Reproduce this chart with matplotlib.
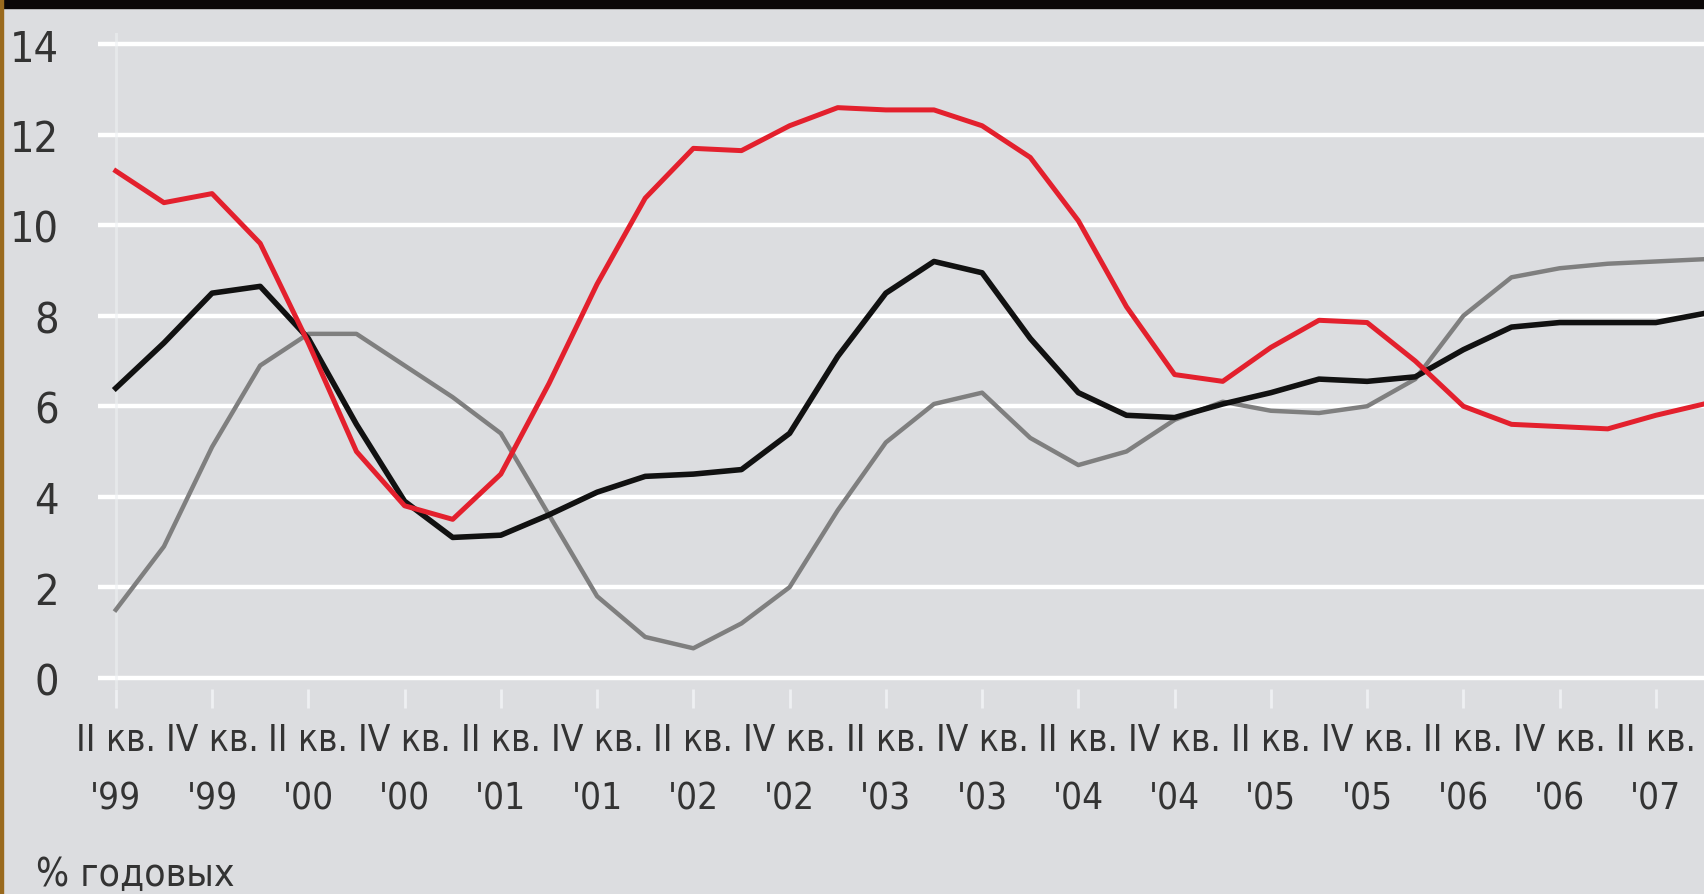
import matplotlib
matplotlib.use("Agg")
import matplotlib.pyplot as plt
from matplotlib import font_manager as fm

red = [11.2, 10.5, 10.7, 9.6, 7.4, 5.0, 3.8, 3.5, 4.5, 6.5, 8.7, 10.6, 11.7, 11.65,
       12.2, 12.6, 12.55, 12.55, 12.2, 11.5, 10.1, 8.2, 6.7, 6.55, 7.3, 7.9, 7.85,
       7.0, 6.0, 5.6, 5.55, 5.5, 5.8, 6.05]
black = [6.4, 7.4, 8.5, 8.65, 7.5, 5.6, 3.9, 3.1, 3.15, 3.6, 4.1, 4.45, 4.5, 4.6,
         5.4, 7.1, 8.5, 9.2, 8.95, 7.5, 6.3, 5.8, 5.75, 6.05, 6.3, 6.6, 6.55, 6.65,
         7.25, 7.75, 7.85, 7.85, 7.85, 8.05]
gray = [1.5, 2.9, 5.1, 6.9, 7.6, 7.6, 6.9, 6.2, 5.4, 3.6, 1.8, 0.9, 0.65, 1.2,
        2.0, 3.7, 5.2, 6.05, 6.3, 5.3, 4.7, 5.0, 5.7, 6.1, 5.9, 5.85, 6.0, 6.6,
        8.0, 8.85, 9.05, 9.15, 9.2, 9.25]
quarters = ["II кв.", "IV кв."] * 8 + ["II кв."]
years = ["'99", "'99", "'00", "'00", "'01", "'01", "'02", "'02", "'03", "'03",
         "'04", "'04", "'05", "'05", "'06", "'06", "'07"]
yticks = [0, 2, 4, 6, 8, 10, 12, 14]
unit_label = "% годовых"

# find a condensed / narrow font if one is installed
cands = []
for f in fm.fontManager.ttflist:
    nm = f.name.lower()
    st = str(f.stretch).lower()
    narrow = "narrow" in nm or "condensed" in nm or "condensed" in st
    if narrow and f.style == "normal" and "semi" not in st:
        w = f.weight if isinstance(f.weight, int) else 400
        cands.append((abs(w - 400), f.fname))
cands.sort()
if cands:
    FP = lambda size: fm.FontProperties(fname=cands[0][1], size=size)
    scale = 1.0
else:
    FP = lambda size: fm.FontProperties(family="DejaVu Sans", size=size)
    scale = 0.72

bg = "#dcdde0"
fig = plt.figure(figsize=(17.04, 8.95), dpi=100, facecolor=bg)
ax = fig.add_axes([98 / 1704, 1 - 690 / 895, 1 - 98 / 1704, (690 - 34) / 895])
ax.set_facecolor(bg)

x = list(range(len(red)))
ax.set_xlim(-0.37, len(red) - 1)
ax.set_ylim(-0.25, 14.25)

for v in yticks:
    ax.axhline(v, color="white", lw=3.2, zorder=1)
ax.axvline(0, color="#eef0f2", lw=2, zorder=1, alpha=0.6)

ax.plot(x, gray, color="#7f7f7f", lw=3.2, zorder=3, solid_joinstyle="round")
ax.plot(x, black, color="#111111", lw=4.0, zorder=4, solid_joinstyle="round")
ax.plot(x, red, color="#e3202d", lw=3.6, zorder=5, solid_joinstyle="round")

for s in ax.spines.values():
    s.set_visible(False)

ax.set_yticks(yticks)
ax.set_yticklabels([str(v) for v in yticks], color="#333333",
                   fontproperties=FP(31 * scale))
ax.tick_params(axis="y", length=0, pad=28)

tick_pos = list(range(0, len(red), 2))
ax.set_xticks(tick_pos)
ax.set_xticklabels([f"{q}\n{y}" for q, y in zip(quarters, years)],
                   color="#333333", linespacing=1.75 if scale == 1.0 else 2.0,
                   fontproperties=FP(26.5 * scale))
ax.tick_params(axis="x", length=14, width=2, color="#eef0f2", pad=9, direction="out")

fig.text(36 / 1704, 1 - 875 / 895, unit_label, color="#333333",
         ha="left", va="center", fontproperties=FP(28 * scale))

fig.patches.append(plt.Rectangle((0, 1 - 9 / 895), 1, 9 / 895, transform=fig.transFigure,
                                 color="#0b0708", zorder=10))
fig.patches.append(plt.Rectangle((0, 0), 2.5 / 1704, 1, transform=fig.transFigure,
                                 color="#9a6a1e", zorder=10))

fig.savefig("out.png", dpi=100, facecolor=bg)
